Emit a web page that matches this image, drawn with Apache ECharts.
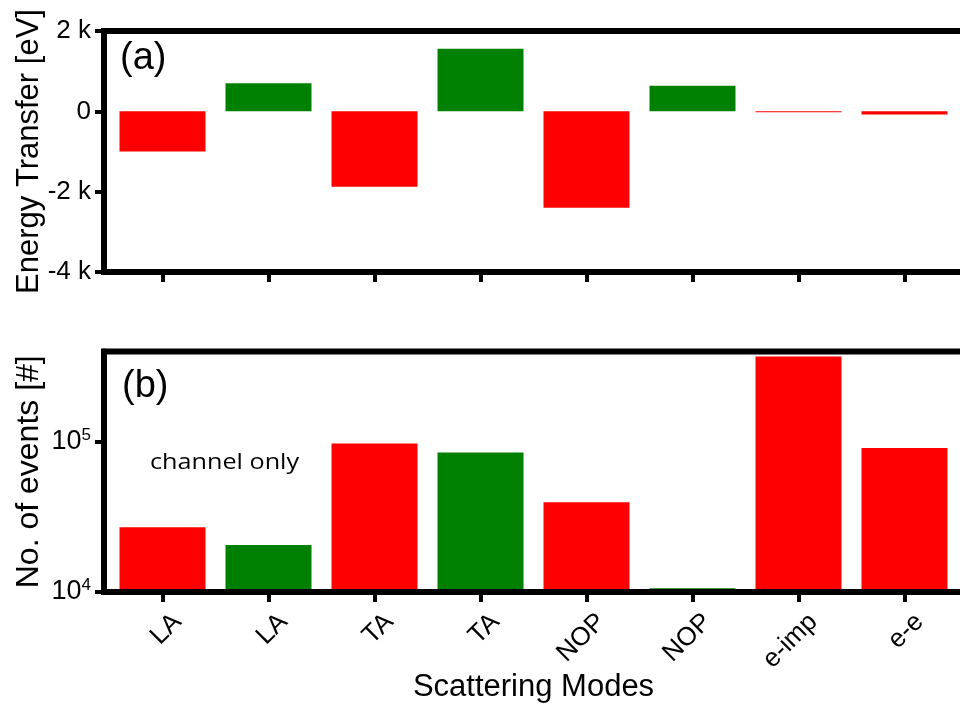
<!DOCTYPE html>
<html><head><meta charset="utf-8">
<script src="https://cdn.jsdelivr.net/npm/echarts@6/dist/echarts.min.js"></script>
<style>html,body{margin:0;padding:0;background:#fff}#c{width:960px;height:704px}</style>
</head><body><div id="c"></div>
<script>
// ---- data ----
const categories = ['LA', 'LA', 'TA', 'TA', 'NOP', 'NOP', 'e-imp', 'e-e'];
const energyTransfer = [-1000, 700, -1880, 1560, -2400, 640, -20, -80];   // eV
const eventCounts = [27000, 20600, 97400, 85000, 39600, 10600, 370000, 91200];
const barKinds = ['loss', 'gain', 'loss', 'gain', 'loss', 'gain', 'loss', 'loss'];
const energyTicks = [-4000, -2000, 0, 2000];
const eventTicks = [10000, 100000];

// ---- styling ----
const FONT = '"Liberation Sans", Arial, sans-serif';
const kindColor = { loss: '#ff0000', gain: '#008000' };
const positions = categories.map((_, i) => i + 1);
const xMin = 0.448, xMax = 8.552;

function energyLabel(v) {
  if (v === 0) return '0';
  return (v / 1000) + ' k';
}

const axisLineStyle = { color: '#000', width: 6 };
const tickStyle = { color: '#000', width: 4 };

const chart = echarts.init(document.getElementById('c'), null, { renderer: 'canvas' });
chart.setOption({
  animation: false,
  backgroundColor: '#fff',
  grid: [
    { left: 104, top: 31, height: 241, width: 859, outerBoundsMode: 'none', containLabel: false, show: true, borderColor: '#000', borderWidth: 6, backgroundColor: 'transparent' },
    { left: 104, top: 351.5, height: 240.5, width: 859, outerBoundsMode: 'none', containLabel: false, show: true, borderColor: '#000', borderWidth: 6, backgroundColor: 'transparent' }
  ],
  xAxis: [
    {
      gridIndex: 0, type: 'value', min: xMin, max: xMax, z: 5,
      axisLine: { onZero: false, lineStyle: axisLineStyle },
      axisTick: { customValues: positions, length: 10, lineStyle: tickStyle },
      axisLabel: { show: false },
      splitLine: { show: false }
    },
    {
      gridIndex: 1, type: 'value', min: xMin, max: xMax, z: 5,
      axisLine: { onZero: false, lineStyle: axisLineStyle },
      axisTick: { customValues: positions, length: 10, lineStyle: tickStyle },
      axisLabel: {
        customValues: positions,
        formatter: v => categories[Math.round(v) - 1],
        rotate: 45, fontSize: 26, color: '#000', fontFamily: FONT, margin: 11,
        align: 'right', verticalAlign: 'top', lineHeight: 42
      },
      splitLine: { show: false },
      name: 'Scattering Modes', nameLocation: 'middle', nameGap: 80, nameMoveOverlap: false,
      nameTextStyle: { fontSize: 31, color: '#000', fontFamily: FONT }
    }
  ],
  yAxis: [
    {
      gridIndex: 0, type: 'value', min: -4000, max: 2000, interval: 2000, z: 5,
      axisLine: { show: true, onZero: false, lineStyle: axisLineStyle },
      axisTick: { show: true, customValues: energyTicks, length: 9, lineStyle: tickStyle },
      axisLabel: { customValues: energyTicks, formatter: energyLabel, fontSize: 26, color: '#000', fontFamily: FONT, margin: 13 },
      splitLine: { show: false },
      name: 'Energy Transfer [eV]', nameLocation: 'middle', nameGap: 59, nameMoveOverlap: false,
      nameTextStyle: { fontSize: 31, color: '#000', fontFamily: FONT }
    },
    {
      gridIndex: 1, type: 'log', logBase: 10, min: 10000, max: 400000, z: 5,
      axisLine: { show: true, onZero: false, lineStyle: axisLineStyle },
      axisTick: { show: true, customValues: eventTicks, length: 9, lineStyle: tickStyle },
      minorTick: { show: false },
      axisLabel: {
        customValues: eventTicks,
        formatter: v => '{b|10}{s|' + Math.round(Math.log10(v)) + '}',
        margin: 13,
        rich: {
          b: { fontSize: 27, color: '#000', fontFamily: FONT, lineHeight: 30 },
          s: { fontSize: 17, color: '#000', fontFamily: FONT, verticalAlign: 'top', lineHeight: 17 }
        }
      },
      splitLine: { show: false },
      name: 'No. of events [#]', nameLocation: 'middle', nameGap: 59, nameMoveOverlap: false,
      nameTextStyle: { fontSize: 32, color: '#000', fontFamily: FONT }
    }
  ],
  series: [
    {
      type: 'bar', xAxisIndex: 0, yAxisIndex: 0, barWidth: 86,
      data: positions.map((x, i) => ({ value: [x, energyTransfer[i]], itemStyle: { color: kindColor[barKinds[i]] } }))
    },
    {
      type: 'bar', xAxisIndex: 1, yAxisIndex: 1, barWidth: 86,
      data: positions.map((x, i) => ({ value: [x, eventCounts[i]], itemStyle: { color: kindColor[barKinds[i]] } }))
    }
  ],
  graphic: [
    { type: 'text', left: 120, top: 40, style: { text: '(a)', font: '38px ' + FONT, fill: '#000' } },
    { type: 'text', left: 122, top: 368, style: { text: '(b)', font: '38px ' + FONT, fill: '#000' } },
    { type: 'text', x: 150, y: 463, scaleX: 1.2, style: { text: 'channel only', font: '21px "Open Sans", sans-serif', fill: '#000', verticalAlign: 'middle' } }
  ]
});
</script>
</body></html>
